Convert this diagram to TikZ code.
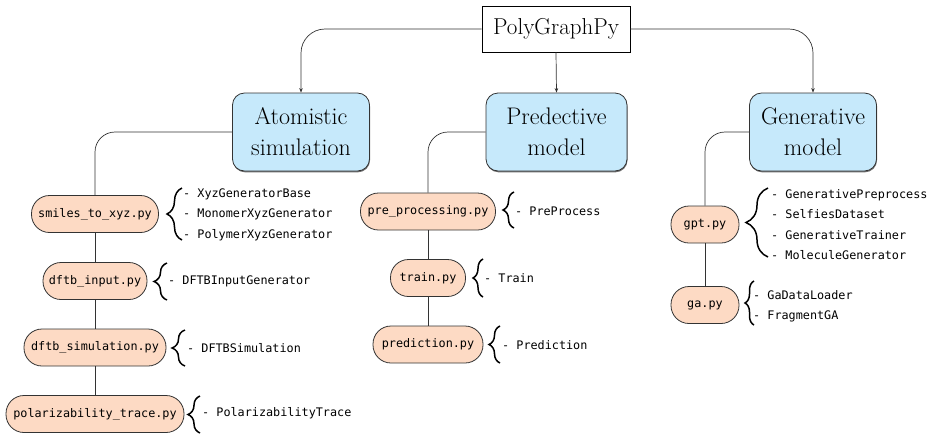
\documentclass[tikz,border=0pt]{standalone}
\usepackage{fontspec}
\setmonofont{DejaVu Sans Mono}
\usetikzlibrary{arrows.meta,shadows,decorations.pathreplacing}
\definecolor{catblue}{HTML}{C6E9FB}
\definecolor{pillor}{HTML}{FDDAC4}
\definecolor{edge}{HTML}{333333}
\tikzset{
  rootbox/.style={draw=black,line width=0.8pt,fill=white,minimum width=148pt,minimum height=46pt,inner sep=0pt,font=\fontsize{23}{28}\selectfont},
  catbox/.style={draw=edge,line width=0.8pt,fill=catblue,rounded corners=12pt,align=center,inner sep=0pt,minimum height=78pt,
    font=\fontsize{24}{31}\selectfont,drop shadow={shadow xshift=0.5pt,shadow yshift=-1.3pt,fill=black!70,opacity=0.8}},
  pill/.style={draw=edge,line width=0.8pt,fill=pillor,rounded corners=18pt,inner sep=0pt,minimum height=37pt,font=\ttfamily\fontsize{11.8}{14}\selectfont},
  itemlist/.style={anchor=west,align=left,inner sep=0pt,font=\ttfamily\fontsize{11.8}{20.4}\selectfont},
  conn/.style={draw=edge,line width=0.7pt},
  arr/.style={conn,-{Stealth[length=4.5pt,width=3.5pt]}},
  bracestyle/.style={draw=black,line width=1.5pt,decorate}
}
\newcommand\mybrace[4]{\draw[bracestyle,decoration={brace,amplitude=#4}] (#1,#2) -- (#1,#3);}
\begin{document}
\begin{tikzpicture}[x=1pt,y=-1pt]
\useasboundingbox (0,0) rectangle (934,440);
% root
\node[rootbox] (root) at (556,29) {PolyGraphPy};
% categories
\node[catbox,minimum width=137pt] (cat1) at (301,132) {Atomistic\\simulation};
\node[catbox,minimum width=141pt] (cat2) at (556.5,132) {Predective\\model};
\node[catbox,minimum width=127pt] (cat3) at (813,132) {Generative\\model};
% left column
\node[pill,minimum width=127pt] (smiles) at (95,214) {smiles\_to\_xyz.py};
\node[pill,minimum width=104pt] (dinput) at (95,281) {dftb\_input.py};
\node[pill,minimum width=142pt] (dsim) at (95,347.5) {dftb\_simulation.py};
\node[pill,minimum width=178pt] (polar) at (95,414) {polarizability\_trace.py};
% middle column
\node[pill,minimum width=135pt] (pre) at (428,211.5) {pre\_processing.py};
\node[pill,minimum width=75pt] (train) at (428,278) {train.py};
\node[pill,minimum width=110pt] (pred) at (428,344.5) {prediction.py};
% right column
\node[pill,minimum width=68pt] (gpt) at (705,224.5) {gpt.py};
\node[pill,minimum width=68pt] (ga) at (705,305) {ga.py};
% lists
\node[itemlist] (lsmiles) at (183,214.5) {- XyzGeneratorBase\\- MonomerXyzGenerator\\- PolymerXyzGenerator};
\node[itemlist] (linput) at (168,281) {- DFTBInputGenerator};
\node[itemlist] (lsim) at (187,348) {- DFTBSimulation};
\node[itemlist] (lpolar) at (202,413.5) {- PolarizabilityTrace};
\node[itemlist] (lpre) at (515,211.5) {- PreProcess};
\node[itemlist] (ltrain) at (484,278) {- Train};
\node[itemlist] (lpred) at (502,345) {- Prediction};
\node[itemlist] (lgpt) at (771,224.5) {- GenerativePreprocess\\- SelfiesDataset\\- GenerativeTrainer\\- MoleculeGenerator};
\node[itemlist] (lga) at (753,306) {- GaDataLoader\\- FragmentGA};
% braces
\mybrace{182}{240}{188}{15pt}
\mybrace{167}{300}{263}{13pt}
\mybrace{185}{366}{330}{13pt}
\mybrace{200}{433}{396}{12pt}
\mybrace{514}{228}{192}{11pt}
\mybrace{483}{297}{259}{10pt}
\mybrace{500}{363}{326}{11pt}
\mybrace{768}{257}{188}{22pt}
\mybrace{754}{325}{281}{9pt}
% connectors root -> categories
\draw[arr,rounded corners=24pt] (root.west) -| (cat1.north);
\draw[arr] (root.south) -- (cat2.north);
\draw[arr,rounded corners=24pt] (root.east) -| (cat3.north);
% category -> columns
\draw[conn,rounded corners=20pt] (cat1.west) -| (smiles.north);
\draw[conn] (smiles.south) -- (dinput.north);
\draw[conn] (dinput.south) -- (dsim.north);
\draw[conn] (dsim.south) -- (polar.north);
\draw[conn,rounded corners=20pt] (cat2.west) -| (pre.north);
\draw[conn] (pre.south) -- (train.north);
\draw[conn] (train.south) -- (pred.north);
\draw[conn,rounded corners=20pt] (cat3.west) -| (gpt.north);
\draw[conn] (gpt.south) -- (ga.north);
\end{tikzpicture}
\end{document}
